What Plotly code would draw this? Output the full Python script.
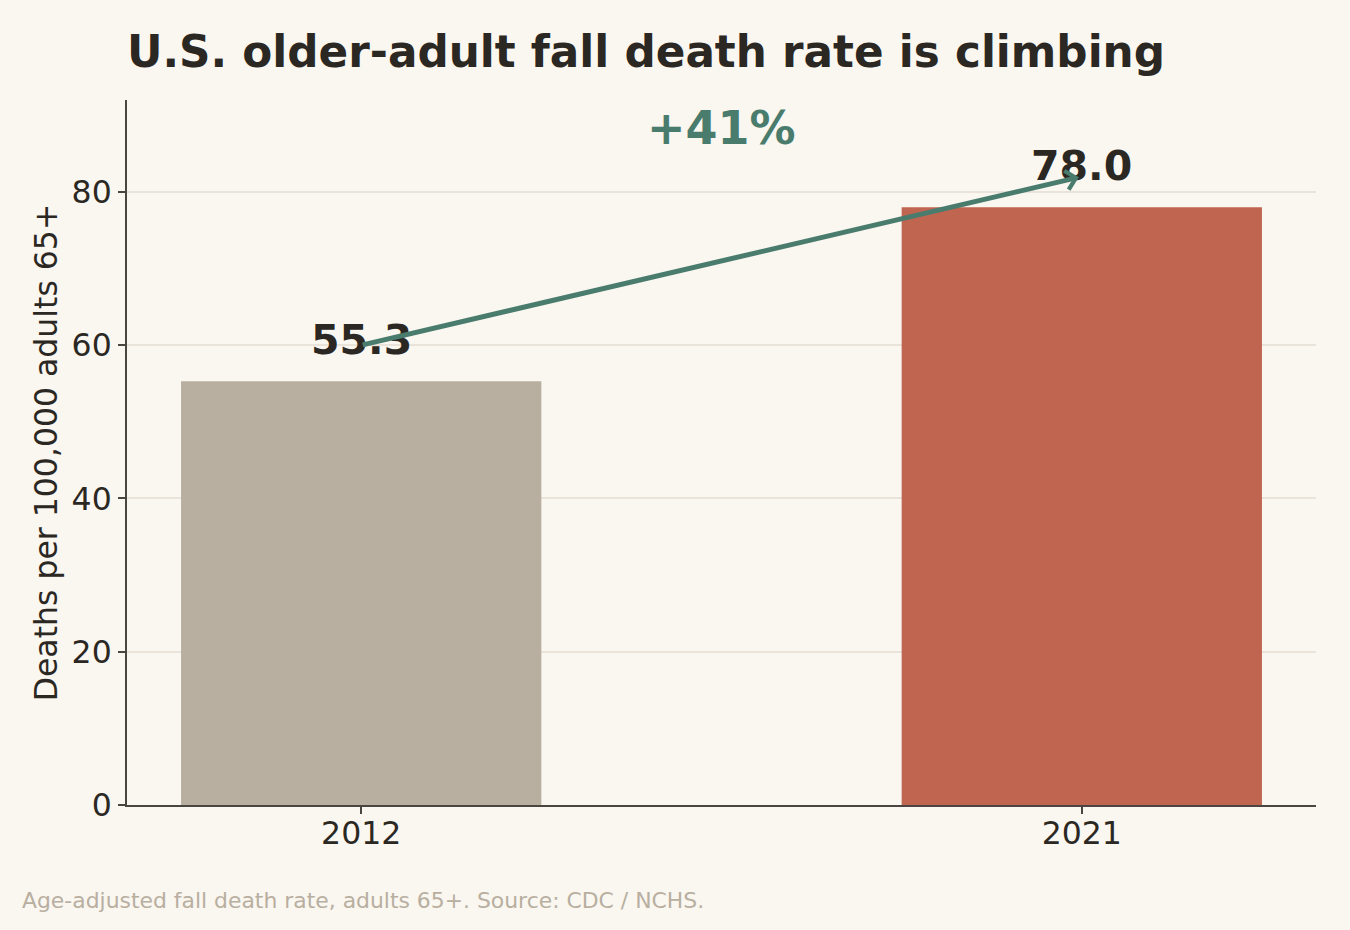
import plotly.graph_objects as go

# Data
years = ["2012", "2021"]
rates = [55.3, 78.0]
bar_colors = ["#B8AFA0", "#C0654F"]
change_label = "+41%"
arrow_from = 60.0
arrow_to = 82.0
y_ticks = [0, 20, 40, 60, 80]

BG = "#FAF6F0"
INK = "#2B2823"
GREEN = "#4A7C6E"
FONT = "DejaVu Sans"

fig = go.Figure(go.Bar(
    x=years,
    y=rates,
    width=0.5,
    marker=dict(color=bar_colors, line=dict(width=0)),
    hoverinfo="x+y",
))

# value labels above bars (x as category index)
for i, v in enumerate(rates):
    fig.add_annotation(
        x=i, y=v + 2, text=f"<b>{v:.1f}</b>", showarrow=False,
        yanchor="bottom", font=dict(family=FONT, size=41, color=INK),
    )

# arrow between the two labels
fig.add_annotation(
    x=1, y=arrow_to, ax=0, ay=arrow_from,
    xref="x", yref="y", axref="x", ayref="y",
    text="", showarrow=True, arrowhead=4, arrowsize=0.75,
    arrowwidth=5, arrowcolor=GREEN, standoff=3,
)

fig.add_annotation(
    x=0.5, y=88.4, xref="x", yref="y", text=f"<b>{change_label}</b>",
    showarrow=False, font=dict(family=FONT, size=46, color=GREEN),
)

# footer note
fig.add_annotation(
    x=(20 - 127) / 1189, y=-(900 - 805) / 705, xref="paper", yref="paper",
    text="Age-adjusted fall death rate, adults 65+. Source: CDC / NCHS.",
    showarrow=False, xanchor="left", yanchor="middle",
    font=dict(family=FONT, size=21.9, color="#B8AFA0"),
)

fig.update_layout(
    width=1350, height=930,
    paper_bgcolor=BG, plot_bgcolor=BG,
    margin=dict(l=127, r=34, t=100, b=125),
    showlegend=False,
    title=dict(
        text="<b>U.S. older-adult fall death rate is climbing</b>",
        x=127 / 1350, xanchor="left", xref="container",
        y=1 - 52 / 930, yanchor="middle", yref="container",
        font=dict(family=FONT, size=43.7, color=INK),
    ),
    font=dict(family=FONT, color=INK),
)

fig.update_xaxes(
    type="category", range=[-0.325, 1.325],
    showline=True, linecolor="#4A4540", linewidth=2,
    ticks="outside", ticklen=7, tickwidth=1.5, tickcolor="#4A4540",
    ticklabelstandoff=-8,
    tickfont=dict(family=FONT, size=31.5, color=INK),
    showgrid=False, zeroline=False,
)
fig.update_yaxes(
    range=[0, 92], tickvals=y_ticks,
    showline=True, linecolor="#4A4540", linewidth=2,
    ticks="outside", ticklen=7, tickwidth=1.5, tickcolor="#4A4540",
    ticklabelstandoff=0,
    tickfont=dict(family=FONT, size=31.5, color=INK),
    showgrid=True, gridcolor="#E9E3D9", gridwidth=2, zeroline=False,
    title=dict(text="Deaths per 100,000 adults 65+", standoff=5,
               font=dict(family=FONT, size=31.5, color=INK)),
)

fig.write_html("out.html", config={"displayModeBar": False},
               post_script="document.body.style.margin='0';")
